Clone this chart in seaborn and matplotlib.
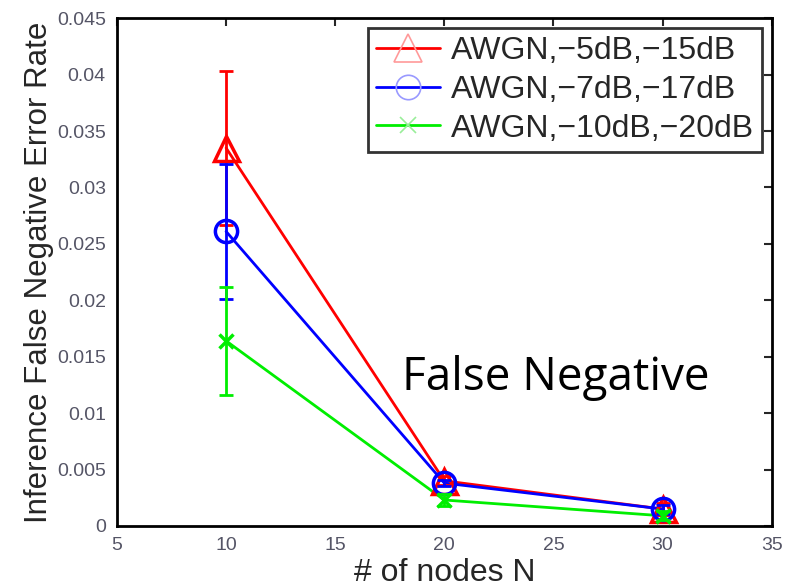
import numpy as np
import pandas as pd
import matplotlib
matplotlib.use("Agg")
import matplotlib.pyplot as plt
import seaborn as sns

nodes = [10, 20, 30]
series = ["AWGN,\u22125dB,\u221215dB", "AWGN,\u22127dB,\u221217dB", "AWGN,\u221210dB,\u221220dB"]
red_vals = [0.0335, 0.0040, 0.0015]
red_err = [0.0068, 0.0004, 0.0005]
blue_vals = [0.0261, 0.0038, 0.0015]
blue_err = [0.0060, 0.0003, 0.0004]
green_vals = [0.0164, 0.0023, 0.0009]
green_err = [0.0048, 0.0005, 0.0004]

colors = ["#ff0000", "#0000ff", "#00ee00"]
light_colors = ["#ff9999", "#9999ff", "#99ee99"]
markers = ["^", "o", "x"]
msizes = [18, 16, 10]

sns.set_theme(style="white")
plt.rcParams['font.family'] = ['Liberation Sans', 'DejaVu Sans']

rows = []
for name, vals in zip(series, [red_vals, blue_vals, green_vals]):
    for n, v in zip(nodes, vals):
        rows.append({"N": n, "rate": v, "series": name})
df = pd.DataFrame(rows)

fig = plt.figure(figsize=(7.85, 5.87), dpi=100)
ax = fig.add_axes([0.149, 0.104, 0.834, 0.865])

sns.lineplot(data=df, x="N", y="rate", hue="series", palette=colors,
             hue_order=series, linewidth=2, ax=ax, legend=False)
handles = []
for name, vals, errs, c, lc, m, ms in zip(series, [red_vals, blue_vals, green_vals],
                                          [red_err, blue_err, green_err], colors,
                                          light_colors, markers, msizes):
    ax.errorbar(nodes, vals, yerr=errs, color=c, linewidth=0, elinewidth=2,
                capsize=5, capthick=2, fmt="none")
    ax.plot(nodes, vals, linestyle="none", marker=m, markersize=ms,
            markerfacecolor="none", markeredgecolor=c, markeredgewidth=2.5)
    h, = ax.plot([], [], color=c, linewidth=2, marker=m, markersize=ms * 1.1,
                 markerfacecolor="none", markeredgecolor=lc, markeredgewidth=1.2)
    handles.append(h)

ax.set_xlim(5, 35)
ax.set_ylim(0, 0.045)
ax.set_xticks([5, 10, 15, 20, 25, 30, 35])
ax.set_yticks(np.arange(0, 0.0451, 0.005))
ax.set_yticklabels(["0", "0.005", "0.01", "0.015", "0.02", "0.025", "0.03", "0.035", "0.04", "0.045"])
ax.tick_params(direction="in", length=6, width=1.5, top=True, right=True,
               labelsize=14, labelcolor="#555566", pad=8)
for s in ax.spines.values():
    s.set_color("black")
    s.set_linewidth(2)

ax.set_xlabel("# of nodes N", fontsize=23, labelpad=3)
ax.set_ylabel("Inference False Negative Error Rate", fontsize=22.5, labelpad=2)

leg = ax.legend(handles, series, loc="upper right", fontsize=23, frameon=True,
                fancybox=False, handlelength=2.0, handletextpad=0.35,
                labelspacing=0.28, borderpad=0.25, borderaxespad=0.3)
leg.get_frame().set_edgecolor("black")
leg.get_frame().set_linewidth(2)

fig.text(0.512, 0.335, "False Negative", fontsize=33, family=["Open Sans", "DejaVu Sans"],
         color="black", ha="left", va="baseline")

fig.savefig("out.png", dpi=100)
